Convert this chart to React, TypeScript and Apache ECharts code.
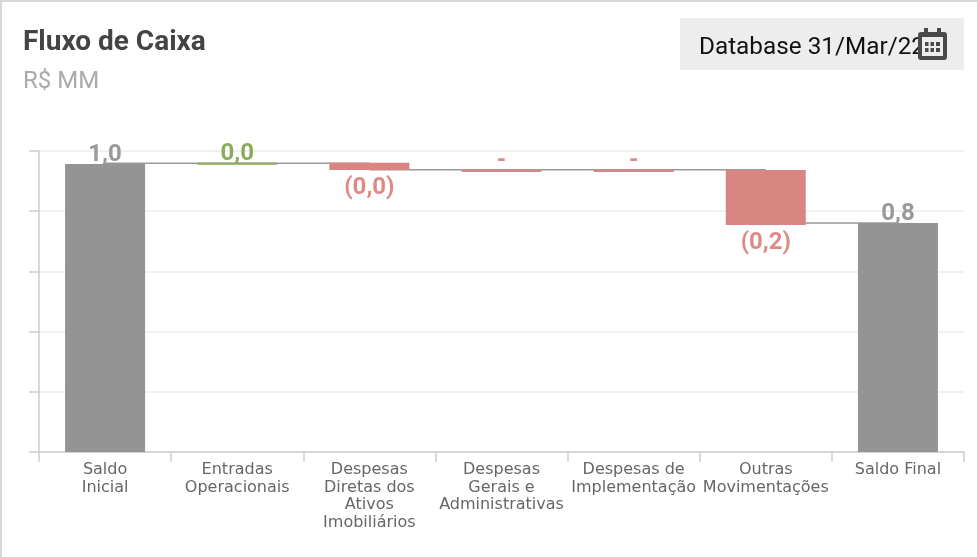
import React, { useEffect, useRef } from "react";
import * as echarts from "echarts";

const categories = [
  "Saldo\nInicial",
  "Entradas\nOperacionais",
  "Despesas\nDiretas dos\nAtivos\nImobiliários",
  "Despesas\nGerais e\nAdministrativas",
  "Despesas de\nImplementação",
  "Outras\nMovimentações",
  "Saldo Final",
];
const baseValues = [0, 0.954, 0.937, 0.93, 0.93, 0.754, 0];
const barValues = [0.957, 0.007, 0.024, 0.008, 0.008, 0.183, 0.761];
const barKinds = ["total", "up", "down", "down", "down", "down", "total"];
const barLabels = ["1,0", "0,0", "(0,0)", "-", "-", "(0,2)", "0,8"];
const connectorLevels = [0.959, 0.959, 0.938, 0.938, 0.938, 0.761];
const yTicks = [0, 0.2, 0.4, 0.6, 0.8, 1];

const kindColor: Record<string, string> = { total: "#949494", up: "#8aab5e", down: "#d98582" };
const labelColor: Record<string, string> = { total: "#999999", up: "#8aab5e", down: "#de8a87" };

const calendarPath =
  "M3 4h3V0h4v4h9V0h4v4h3a3 3 0 0 1 3 3v22a3 3 0 0 1-3 3H3a3 3 0 0 1-3-3V7a3 3 0 0 1 3-3zM4 9v19h21V9zM7 14h3.500v4H7zM12.500 14H16v4h-3.500zM18 14h4v4h-4zM7 20h3.500v4H7zM12.500 20H16v4h-3.500zM18 20h4v4h-4z";

export default function App() {
  const ref = useRef<HTMLDivElement>(null);
  useEffect(() => {
    echarts.graphic.registerShape("calendarIcon", echarts.graphic.extendPath(calendarPath, {}) as any);
    const chart = echarts.init(ref.current!, undefined, { renderer: "svg" });
    chart.setOption({
      animation: false,
      grid: { left: 39, right: 13, top: 151, bottom: 105, containLabel: false },
      xAxis: {
        type: "category",
        data: categories,
        boundaryGap: true,
        axisLine: { lineStyle: { color: "#cccccc", width: 1.5 } },
        axisTick: { show: true, length: 10, lineStyle: { color: "#cccccc", width: 1.5 } },
        axisLabel: {
          interval: 0,
          fontFamily: "DejaVu Sans",
          fontSize: 16,
          lineHeight: 17.5,
          color: "#666666",
          margin: 8,
        },
      },
      yAxis: {
        type: "value",
        min: yTicks[0],
        max: yTicks[yTicks.length - 1],
        interval: 0.2,
        axisLine: { show: true, onZero: false, lineStyle: { color: "#cccccc", width: 1.5 } },
        axisTick: { show: true, length: 10, lineStyle: { color: "#cccccc", width: 1.5 } },
        axisLabel: { show: false },
        splitLine: { show: true, lineStyle: { color: "#f0f0f0", width: 2 } },
      },
      series: [
        ...connectorLevels.map((level, i) => ({
          type: "line",
          z: 1,
          symbol: "none",
          silent: true,
          lineStyle: { color: "#999999", width: 1.5 },
          data: [
            [i, level],
            [i + 1, level],
          ],
        })),
        {
          type: "bar",
          stack: "w",
          z: 2,
          barWidth: 80,
          itemStyle: { color: "transparent" },
          data: baseValues,
        },
        {
          type: "bar",
          stack: "w",
          z: 2,
          barWidth: 80,
          data: barValues.map((v, i) => ({
            value: v,
            itemStyle: { color: kindColor[barKinds[i]] },
            label: {
              show: true,
              formatter: barLabels[i],
              position: barLabels[i].startsWith("(") ? "bottom" : "top",
              distance: barLabels[i] === "-" ? -1 : barLabels[i].startsWith("(") ? 4 : -1,
              fontFamily: "Roboto",
              fontWeight: "bold",
              fontSize: 24,
              color: labelColor[barKinds[i]],
            },
          })),
        },
      ],
      graphic: [
        { type: "rect", z: 0, shape: { x: 0, y: 0, width: 977, height: 2 }, style: { fill: "#d8d8d8" } },
        { type: "rect", z: 0, shape: { x: 0, y: 0, width: 2, height: 557 }, style: { fill: "#d8d8d8" } },
        { type: "text", x: 23, y: 26, style: { text: "Fluxo de Caixa", font: "bold 28px Roboto", fill: "#444444" } },
        { type: "text", x: 23, y: 68, style: { text: "R$ MM", font: "24px Roboto", fill: "#aaaaaa" } },
        { type: "rect", shape: { x: 680, y: 18, width: 284, height: 52 }, style: { fill: "#ededed" } },
        { type: "text", z: 10, x: 699, y: 33, style: { text: "Database 31/Mar/22", font: "24.3px Roboto", fill: "#111111" } },
        { type: "rect", z: 11, shape: { x: 918, y: 18, width: 46, height: 52 }, style: { fill: "#ededed" } },
        { type: "calendarIcon", z: 12, x: 918, y: 28, style: { fill: "#4a4a4a" } },
      ],
    });
    return () => chart.dispose();
  }, []);
  return <div ref={ref} style={{ position: "fixed", left: 0, top: 0, width: 977, height: 557 }} />;
}
